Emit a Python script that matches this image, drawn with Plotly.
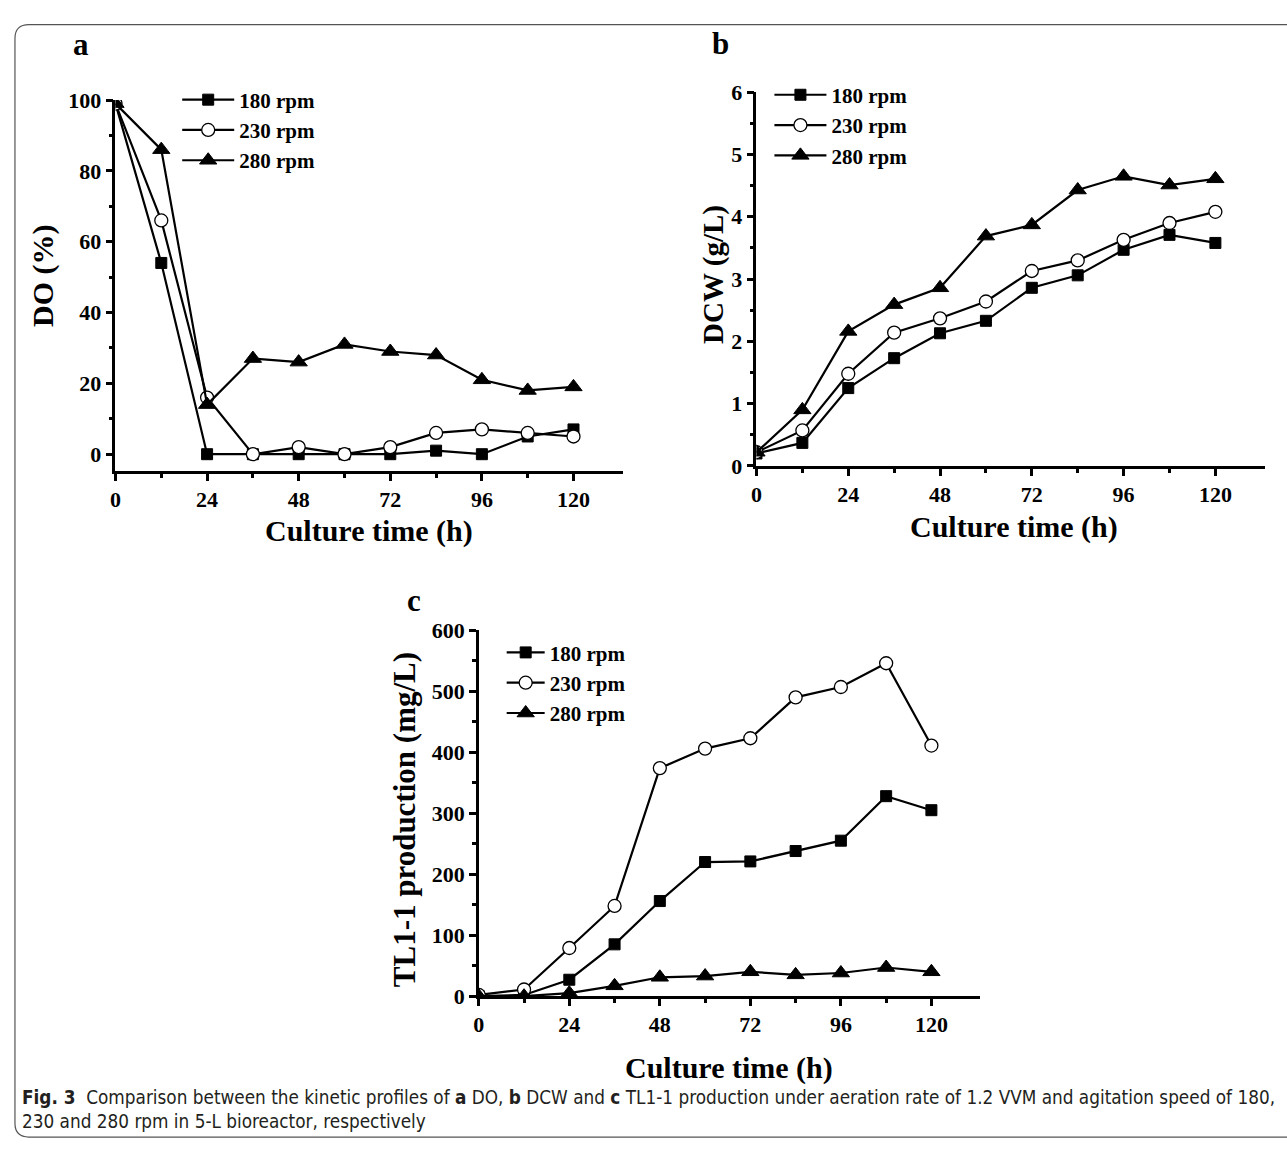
import plotly.graph_objects as go

time_h = [0, 12, 24, 36, 48, 60, 72, 84, 96, 108, 120]
series_names = ["180 rpm", "230 rpm", "280 rpm"]

do_180 = [99, 54, 0, 0, 0, 0, 0, 1, 0, 5, 7]
do_230 = [99, 66, 16, 0, 2, 0, 2, 6, 7, 6, 5]
do_280 = [99, 86, 14, 27, 26, 31, 29, 28, 21, 18, 19]

dcw_180 = [0.20, 0.37, 1.25, 1.73, 2.13, 2.33, 2.86, 3.06, 3.47, 3.71, 3.58]
dcw_230 = [0.22, 0.57, 1.48, 2.14, 2.37, 2.64, 3.13, 3.30, 3.63, 3.90, 4.08]
dcw_280 = [0.22, 0.90, 2.16, 2.59, 2.86, 3.69, 3.87, 4.43, 4.65, 4.51, 4.61]

tl_180 = [0, 2, 27, 85, 156, 220, 221, 238, 255, 328, 305]
tl_230 = [2, 11, 79, 148, 374, 406, 423, 490, 507, 546, 411]
tl_280 = [0, 0, 5, 17, 31, 33, 40, 35, 38, 47, 40]

x_ticks = [0, 24, 48, 72, 96, 120]
x_minor = [12, 36, 60, 84, 108]

W, H = 1287, 1153
SERIF = "Liberation Serif, Times New Roman, serif"

def px(x):
    return x / W

def py(y):
    return 1 - y / H

markers = [
    dict(symbol="square", size=11, color="black", line=dict(color="black", width=1)),
    dict(symbol="circle", size=13, color="white", line=dict(color="black", width=1.3)),
    dict(symbol="triangle-up", size=15, color="black", line=dict(color="black", width=1)),
]

fig = go.Figure()

panels = [
    dict(data=[do_180, do_230, do_280], xa="x", ya="y", legend="legend"),
    dict(data=[dcw_180, dcw_230, dcw_280], xa="x2", ya="y2", legend="legend2"),
    dict(data=[tl_180, tl_230, tl_280], xa="x3", ya="y3", legend="legend3"),
]

for p in panels:
    for i, (name, vals) in enumerate(zip(series_names, p["data"])):
        fig.add_trace(go.Scatter(
            x=time_h, y=vals, name=name, mode="lines+markers",
            line=dict(color="black", width=2.2),
            marker=markers[i],
            xaxis=p["xa"], yaxis=p["ya"], legend=p["legend"],
            legendgroup=p["legend"] + str(i),
        ))

tickfont = dict(family=SERIF, size=22, color="black", weight="bold")

def xaxis_cfg(domain, anchor):
    return dict(domain=domain, anchor=anchor, range=[0, 133],
                tickvals=x_ticks, showline=True, linewidth=2.5, linecolor="black",
                ticks="outside", ticklen=7, tickwidth=2.5, tickcolor="black",
                minor=dict(ticks="outside", tickvals=x_minor, ticklen=4, tickwidth=2.5, tickcolor="black"),
                showgrid=False, zeroline=False, tickfont=tickfont)

def yaxis_cfg(domain, anchor, rng, dtick, mdtick):
    return dict(domain=domain, anchor=anchor, range=rng, dtick=dtick, tick0=0,
                showline=True, linewidth=2.5, linecolor="black",
                ticks="outside", ticklen=7, tickwidth=2.5, tickcolor="black",
                minor=dict(ticks="outside", dtick=mdtick, ticklen=4, tickwidth=2.5, tickcolor="black"),
                showgrid=False, zeroline=False, tickfont=tickfont)

legend_common = dict(font=dict(family=SERIF, size=21, color="black", weight="bold"),
                     bgcolor="rgba(0,0,0,0)", tracegroupgap=0,
                     xanchor="left", yanchor="top")

fig.update_layout(
    width=W, height=H, margin=dict(l=0, r=0, t=0, b=0),
    paper_bgcolor="white", plot_bgcolor="white",
    xaxis=xaxis_cfg([px(110), px(620)], "y"),
    yaxis=yaxis_cfg([py(469), py(90)], "x", [-4.7, 100], 20, 10),
    xaxis2=xaxis_cfg([px(754), px(1265)], "y2"),
    yaxis2=yaxis_cfg([py(464), py(82)], "x2", [0, 6], 1, 0.5),
    xaxis3=xaxis_cfg([px(475), px(979)], "y3"),
    yaxis3=yaxis_cfg([py(1006), py(632)], "x3", [0, 600], 100, 50),
    legend=dict(x=px(172), y=py(69), itemwidth=52, **legend_common),
    legend2=dict(x=px(767), y=py(64), itemwidth=52, **legend_common),
    legend3=dict(x=px(498), y=py(634), itemwidth=38, **legend_common),
    showlegend=True,
)

def ann(text, x, y, size, angle=0):
    fig.add_annotation(text=text, x=px(x), y=py(y), xref="paper", yref="paper",
                       xanchor="center", yanchor="middle",
                       showarrow=False, textangle=angle,
                       font=dict(family=SERIF, size=size, color="black", weight="bold"))

ann("a", 75, 33, 31)
ann("b", 718, 32, 31)
ann("c", 410, 602, 31)
ann("DO (%)", 37, 270, 30, angle=-90)
ann("Culture time (h)", 365, 530, 30)
ann("DCW (g/L)", 710, 268, 29, angle=-90)
ann("Culture time (h)", 1013, 526, 30)
ann("TL1-1 production (mg/L)", 400, 826, 31, angle=-90)
ann("Culture time (h)", 726, 1079, 30)

caption = ("<b>Fig. 3</b>  Comparison between the kinetic profiles of <b>a</b> DO, <b>b</b> DCW and "
           "<b>c</b> TL1-1 production under aeration rate of 1.2 VVM and agitation speed of 180,<br>"
           "230 and 280 rpm in 5-L bioreactor, respectively")
fig.add_annotation(text=caption, x=px(14), y=py(1097), xref="paper", yref="paper",
                   xanchor="left", yanchor="top", align="left", showarrow=False,
                   font=dict(family="Liberation Sans Narrow, DejaVu Sans Condensed, sans-serif",
                             size=18.8, color="#231f20"))

# rounded frame
r = 14
L, T, B = 9, 13, 1150
path = (f"M {px(1300)},{py(T)} L {px(L + r)},{py(T)} "
        f"Q {px(L)},{py(T)} {px(L)},{py(T + r)} "
        f"L {px(L)},{py(B - r)} Q {px(L)},{py(B)} {px(L + r)},{py(B)} "
        f"L {px(1300)},{py(B)}")
fig.add_shape(type="path", path=path, xref="paper", yref="paper",
              line=dict(color="#555555", width=1.2))

fig.write_html("out.html")
